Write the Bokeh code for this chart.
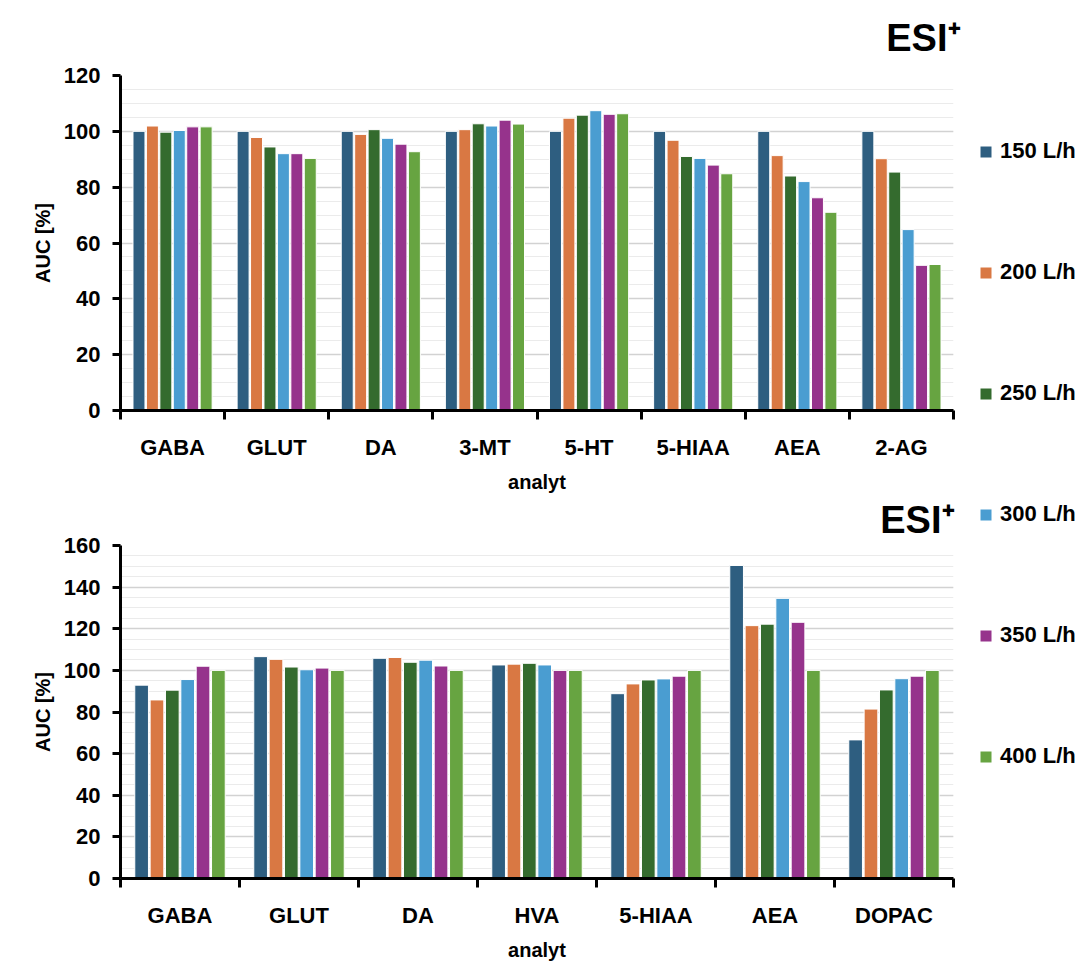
from bokeh.plotting import figure
from bokeh.layouts import column, row
from bokeh.models import (ColumnDataSource, Range1d, LinearAxis, Title,
                          FixedTicker, SingleIntervalTicker, Legend, LegendItem)
from bokeh.embed import file_html
from bokeh.resources import INLINE

# ---------------- data ----------------
series_names = ["150 L/h", "200 L/h", "250 L/h", "300 L/h", "350 L/h", "400 L/h"]
colors = ["#2E5E80", "#D97843", "#346B2E", "#4A9DD1", "#96338C", "#67A441"]

top_categories = ["GABA", "GLUT", "DA", "3-MT", "5-HT", "5-HIAA", "AEA", "2-AG"]
top_150 = [100, 100, 100, 100, 100, 100, 100, 100]
top_200 = [101.9, 97.8, 98.9, 100.6, 104.7, 96.8, 91.3, 90.2]
top_250 = [99.7, 94.4, 100.6, 102.7, 105.8, 91.0, 84.0, 85.4]
top_300 = [100.3, 92.0, 97.5, 101.9, 107.4, 90.3, 82.0, 64.8]
top_350 = [101.6, 92.0, 95.4, 104.0, 106.1, 87.9, 76.2, 52.0]
top_400 = [101.6, 90.3, 92.7, 102.6, 106.3, 84.8, 71.0, 52.3]

bot_categories = ["GABA", "GLUT", "DA", "HVA", "5-HIAA", "AEA", "DOPAC"]
bot_150 = [92.9, 106.6, 105.8, 102.6, 88.8, 150.4, 66.6]
bot_200 = [85.8, 105.3, 106.2, 103.0, 93.5, 121.5, 81.4]
bot_250 = [90.5, 101.6, 103.9, 103.4, 95.4, 122.2, 90.6]
bot_300 = [95.6, 100.3, 104.9, 102.6, 95.9, 134.6, 96.0]
bot_350 = [102.0, 101.1, 102.1, 100.0, 97.2, 123.1, 97.2]
bot_400 = [100.0, 100.0, 100.0, 100.0, 100.0, 100.0, 100.0]

FONT = "Liberation Sans"
BAR_W = 0.115
PITCH = 0.129
offsets = [(i - 2.5) * PITCH for i in range(6)]


def bar_source(categories, values, i):
    centers = [k + 0.5 for k in range(len(categories))]
    return ColumnDataSource({"x": [c + offsets[i] for c in centers], "top": values,
                             "cat": categories})


def make_chart(categories, values, y_max, width, height, left, right, top, bottom,
               title_standoff, title_offset, lab_standoff, axlab_standoff):
    n = len(categories)
    centers = [i + 0.5 for i in range(n)]

    p = figure(x_range=Range1d(0, n), y_range=Range1d(0, y_max),
               width=width, height=height, output_backend="svg", toolbar_location=None,
               x_axis_location=None, min_border_left=left, min_border_right=right,
               min_border_top=top, min_border_bottom=bottom,
               background_fill_color="white", border_fill_color="white")
    p.outline_line_color = None
    p.xgrid.visible = False

    for i, v in enumerate(values):
        p.vbar(x="x", top="top", width=BAR_W, source=bar_source(categories, v, i),
               fill_color=colors[i], line_color="white", line_width=1)

    # y axis
    p.yaxis.ticker = SingleIntervalTicker(interval=20, num_minor_ticks=4)
    p.yaxis.axis_line_width = 3
    p.yaxis.axis_line_color = "black"
    p.yaxis.major_tick_line_width = 3
    p.yaxis.major_tick_out = 8
    p.yaxis.major_tick_in = 0
    p.yaxis.minor_tick_line_color = None
    p.yaxis.major_label_text_font = FONT
    p.yaxis.major_label_text_font_style = "bold"
    p.yaxis.major_label_text_font_size = "22px"
    p.yaxis.major_label_text_color = "black"
    p.yaxis.major_label_standoff = 12
    p.yaxis.axis_label = "AUC [%]"
    p.yaxis.axis_label_text_font = FONT
    p.yaxis.axis_label_text_font_style = "bold"
    p.yaxis.axis_label_text_font_size = "20px"
    p.yaxis.axis_label_text_color = "black"
    p.yaxis.axis_label_standoff = 7

    p.ygrid.grid_line_color = "#d2d2d2"
    p.ygrid.grid_line_width = 1.5
    p.ygrid.minor_grid_line_color = "#ebebeb"
    p.ygrid.minor_grid_line_width = 1

    # x axis: boundary tick marks + category names
    edge_axis = LinearAxis(ticker=FixedTicker(ticks=list(range(n + 1))),
                           major_label_text_font_size="0px", major_label_standoff=0,
                           major_tick_out=9, major_tick_in=0, major_tick_line_width=3,
                           axis_line_width=3, minor_tick_line_color=None)
    p.add_layout(edge_axis, "below")
    cat_axis = LinearAxis(ticker=FixedTicker(ticks=centers),
                          major_label_overrides={c: name for c, name in zip(centers, categories)},
                          axis_line_color=None, major_tick_line_color=None,
                          minor_tick_line_color=None,
                          major_label_text_font=FONT, major_label_text_font_style="bold",
                          major_label_text_font_size="22px", major_label_text_color="black",
                          major_label_standoff=lab_standoff,
                          axis_label="analyt", axis_label_text_font=FONT,
                          axis_label_text_font_style="bold", axis_label_text_font_size="20px",
                          axis_label_text_color="black", axis_label_standoff=axlab_standoff)
    p.add_layout(cat_axis, "below")

    title = Title(text="ESI⁺", align="right", vertical_align="top", text_font=FONT,
                  text_font_style="bold", text_font_size="38px", text_color="black",
                  standoff=title_standoff, offset=title_offset)
    p.add_layout(title, "above")
    return p


top_values = [top_150, top_200, top_250, top_300, top_350, top_400]
bot_values = [bot_150, bot_200, bot_250, bot_300, bot_350, bot_400]

p_top = make_chart(top_categories, top_values, 120,
                   975, 495, 113, 22, 75, 83, 30, -7, 9, 8)
p_bot = make_chart(bot_categories, bot_values, 160,
                   975, 470, 120, 21, 49, 87, 6, -1, 9, 8)

# legend panel on the right, shared by both charts (its bars lie outside its own view)
p_leg = figure(width=109, height=965, x_range=Range1d(-3, -2), y_range=Range1d(0, 1),
               output_backend="svg", toolbar_location=None,
               x_axis_location=None, y_axis_location=None, min_border=0,
               background_fill_color="white", border_fill_color="white")
p_leg.outline_line_color = None
p_leg.xgrid.visible = False
p_leg.ygrid.visible = False
leg_renderers = [p_leg.vbar(x="x", top="top", width=BAR_W,
                            source=bar_source(top_categories, top_values[i], i),
                            fill_color=colors[i], line_color="white", line_width=1)
                 for i in range(6)]
legend = Legend(items=[LegendItem(label=s, renderers=[r]) for s, r in zip(series_names, leg_renderers)],
                location=(3, 196), orientation="vertical",
                glyph_width=15, glyph_height=15, label_height=25, spacing=95,
                label_standoff=7, padding=0, margin=0,
                border_line_color=None, background_fill_alpha=0,
                label_text_font=FONT, label_text_font_style="bold",
                label_text_font_size="22px", label_text_color="black")
p_leg.add_layout(legend, "center")

layout = row(column(p_top, p_bot, spacing=0), p_leg, spacing=0)
html = file_html(layout, INLINE)
open("out.html", "w").write(html)
